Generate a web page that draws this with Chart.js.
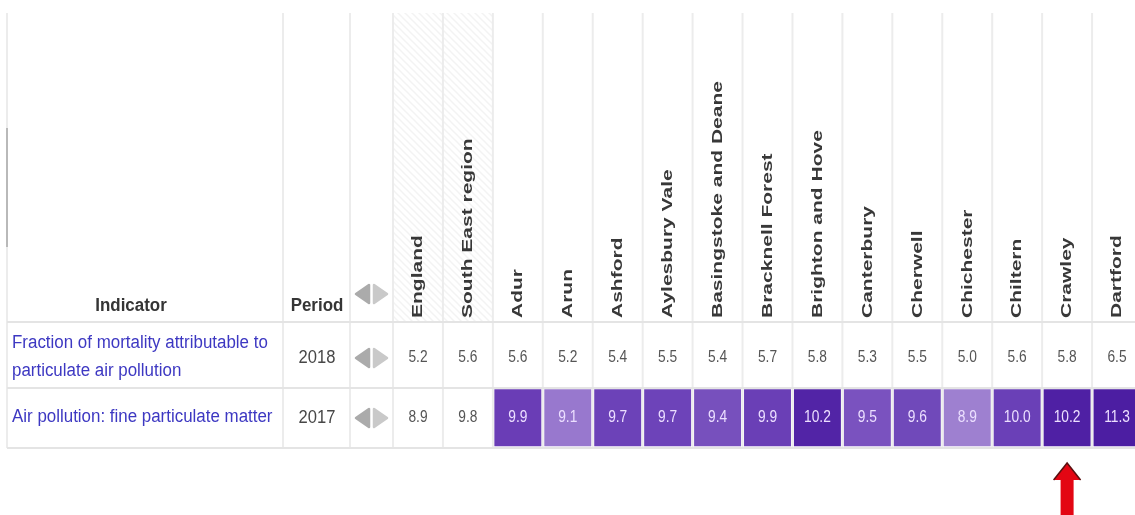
<!DOCTYPE html>
<html>
<head>
<meta charset="utf-8">
<script src="https://cdn.jsdelivr.net/npm/chart.js@4.4.1/dist/chart.umd.min.js"></script>
<style>
  html, body { margin: 0; padding: 0; background: #fff; overflow: hidden; }
  #wrap { width: 1142px; height: 515px; }
</style>
</head>
<body>
<div id="wrap"><canvas id="chart"></canvas></div>
<script>
// areas (columns) and the two indicator rows
const areas = ["England", "South East region", "Adur", "Arun", "Ashford", "Aylesbury Vale",
    "Basingstoke and Deane", "Bracknell Forest", "Brighton and Hove", "Canterbury",
    "Cherwell", "Chichester", "Chiltern", "Crawley", "Dartford"];
const indicators = [
    ["Fraction of mortality attributable to", "particulate air pollution"],
    ["Air pollution: fine particulate matter"]
];
const periods = ["2018", "2017"];
const mortalityFraction = [5.2, 5.6, 5.6, 5.2, 5.4, 5.5, 5.4, 5.7, 5.8, 5.3, 5.5, 5.0, 5.6, 5.8, 6.5];
const fineParticulate = [8.9, 9.8, 9.9, 9.1, 9.7, 9.7, 9.4, 9.9, 10.2, 9.5, 9.6, 8.9, 10.0, 10.2, 11.3];
const highlighted = "Crawley";

// cell shades (England and region are left white)
const shades = [null, null, "#6a3db6", "#9878ce", "#6c42b8", "#6d43b9", "#7750bd", "#6a3fb6",
    "#5224a6", "#7a52bf", "#7049ba", "#9e80d0", "#6a40b7", "#4f20a4", "#4c1ea2"];

const FONT = '"Liberation Sans", Arial, sans-serif';

function squeezedText(ctx, txt, x, y, font, color, sx, align) {
    ctx.save();
    ctx.font = font;
    ctx.fillStyle = color;
    ctx.textAlign = align || "center";
    ctx.textBaseline = "middle";
    ctx.translate(x, y);
    ctx.scale(sx, 1);
    ctx.fillText(txt, 0, 0);
    ctx.restore();
}

function greyArrows(ctx, cy) {
    ctx.save();
    ctx.lineJoin = "round";
    ctx.lineWidth = 2.5;
    ctx.fillStyle = ctx.strokeStyle = "#ababab";
    ctx.beginPath();
    ctx.moveTo(356, cy); ctx.lineTo(369, cy - 9); ctx.lineTo(369, cy + 9); ctx.closePath();
    ctx.fill(); ctx.stroke();
    ctx.fillStyle = ctx.strokeStyle = "#c9c9c9";
    ctx.beginPath();
    ctx.moveTo(374, cy - 9); ctx.lineTo(387, cy); ctx.lineTo(374, cy + 9); ctx.closePath();
    ctx.fill(); ctx.stroke();
    ctx.restore();
}

const tablePlugin = {
    id: "table",
    beforeDatasetsDraw(chart) {
        const ctx = chart.ctx;
        const xs = chart.scales.x, ys = chart.scales.y;
        const area = chart.chartArea;
        const colW = (area.right - area.left) / areas.length;
        const tableTop = 13;
        const headBottom = ys.getPixelForValue(-0.1);
        const rowLine = ys.getPixelForValue(1);
        const bottom = ys.getPixelForValue(2);

        // hatched header for England / region
        const p = document.createElement("canvas");
        p.width = 7; p.height = 7;
        const pc = p.getContext("2d");
        pc.strokeStyle = "#f3f3f3";
        pc.lineWidth = 1.5;
        pc.beginPath(); pc.moveTo(0, 0); pc.lineTo(7, 7); pc.stroke();
        pc.beginPath(); pc.moveTo(-1, 6); pc.lineTo(1, 8); pc.stroke();
        pc.beginPath(); pc.moveTo(6, -1); pc.lineTo(8, 1); pc.stroke();
        ctx.save();
        ctx.fillStyle = ctx.createPattern(p, "repeat");
        ctx.fillRect(area.left, tableTop, colW * 2, headBottom - tableTop);
        ctx.restore();

        // grid lines
        ctx.save();
        ctx.strokeStyle = "#ececec";
        ctx.lineWidth = 2;
        const vlines = [7, 283, 350];
        for (let i = 0; i <= areas.length; i++) vlines.push(area.left + i * colW);
        vlines.forEach(x => {
            ctx.beginPath(); ctx.moveTo(x, tableTop); ctx.lineTo(x, bottom); ctx.stroke();
        });
        ctx.strokeStyle = "#e4e4e4";
        [headBottom, rowLine, bottom].forEach(y => {
            ctx.beginPath(); ctx.moveTo(7, y); ctx.lineTo(area.right, y); ctx.stroke();
        });
        // scroll mark on the left edge
        ctx.strokeStyle = "#b9b9b9";
        ctx.beginPath(); ctx.moveTo(7, 128); ctx.lineTo(7, 247); ctx.stroke();
        ctx.restore();

        // column headers, rotated
        areas.forEach((name, i) => {
            ctx.save();
            ctx.translate(xs.getPixelForValue(i), headBottom - 4);
            ctx.scale(0.74, 1);
            ctx.rotate(-Math.PI / 2);
            ctx.font = "bold 21px " + FONT;
            ctx.fillStyle = "#383838";
            ctx.textAlign = "left";
            ctx.textBaseline = "middle";
            ctx.fillText(name, 0, 0);
            ctx.restore();
        });

        // left header
        squeezedText(ctx, "Indicator", 131, 306, "bold 18px " + FONT, "#353535", 0.94);
        squeezedText(ctx, "Period", 317, 306, "bold 18px " + FONT, "#353535", 0.94);
        greyArrows(ctx, 294);

        // row labels, periods, arrows
        indicators.forEach((lines, r) => {
            const cy = ys.getPixelForValue(r + 0.5);
            const lh = 28;
            lines.forEach((t, k) => {
                const y = cy + (k - (lines.length - 1) / 2) * lh - 1;
                squeezedText(ctx, t, 12, y, "18px " + FONT, "#3d38c2", 0.94, "left");
            });
            squeezedText(ctx, periods[r], 317, cy, "18px " + FONT, "#474747", 0.92);
            greyArrows(ctx, cy);
        });
    },
    afterDatasetsDraw(chart) {
        const ctx = chart.ctx;
        const xs = chart.scales.x, ys = chart.scales.y;
        // values in cells
        chart.data.datasets.forEach((ds, r) => {
            const vals = r === 0 ? mortalityFraction : fineParticulate;
            vals.forEach((v, i) => {
                const shaded = r === 1 && shades[i];
                squeezedText(ctx, v.toFixed(1), xs.getPixelForValue(i), ys.getPixelForValue(r + 0.5),
                    "16px " + FONT, shaded ? "#ecdfff" : "#555555", 0.86);
            });
        });
        // red arrow under the highlighted area
        const ax = xs.getPixelForValue(areas.indexOf(highlighted));
        const tip = ys.getPixelForValue(2) + 15;
        ctx.save();
        ctx.fillStyle = "#e30613";
        ctx.strokeStyle = "#5a1010";
        ctx.lineWidth = 1.5;
        ctx.beginPath();
        ctx.moveTo(ax, tip);
        ctx.lineTo(ax + 13.5, tip + 17);
        ctx.lineTo(ax + 6.5, tip + 17);
        ctx.lineTo(ax + 6.5, chart.height + 5);
        ctx.lineTo(ax - 6.5, chart.height + 5);
        ctx.lineTo(ax - 6.5, tip + 17);
        ctx.lineTo(ax - 13.5, tip + 17);
        ctx.closePath();
        ctx.fill();
        ctx.beginPath();
        ctx.moveTo(ax - 13.5, tip + 17); ctx.lineTo(ax, tip); ctx.lineTo(ax + 13.5, tip + 17);
        ctx.stroke();
        ctx.restore();
    }
};

new Chart(document.getElementById("chart"), {
    type: "bar",
    data: {
        labels: areas,
        datasets: [{
            label: indicators[0].join(" "),
            data: mortalityFraction.map(() => [0, 1]),
            backgroundColor: "rgba(0,0,0,0)",
            grouped: false
        }, {
            label: indicators[1][0],
            data: fineParticulate.map(() => [1.02, 1.97]),
            backgroundColor: shades.map(c => c || "rgba(0,0,0,0)"),
            grouped: false
        }]
    },
    options: {
        responsive: true,
        maintainAspectRatio: false,
        animation: false,
        layout: { padding: { left: 393, top: 322, right: 0, bottom: 67 } },
        datasets: { bar: { categoryPercentage: 1, barPercentage: 0.94 } },
        scales: {
            x: { display: false },
            y: { display: false, min: -0.1, max: 2, reverse: true }
        },
        plugins: { legend: { display: false }, tooltip: { enabled: false } }
    },
    plugins: [tablePlugin]
});
</script>
</body>
</html>
